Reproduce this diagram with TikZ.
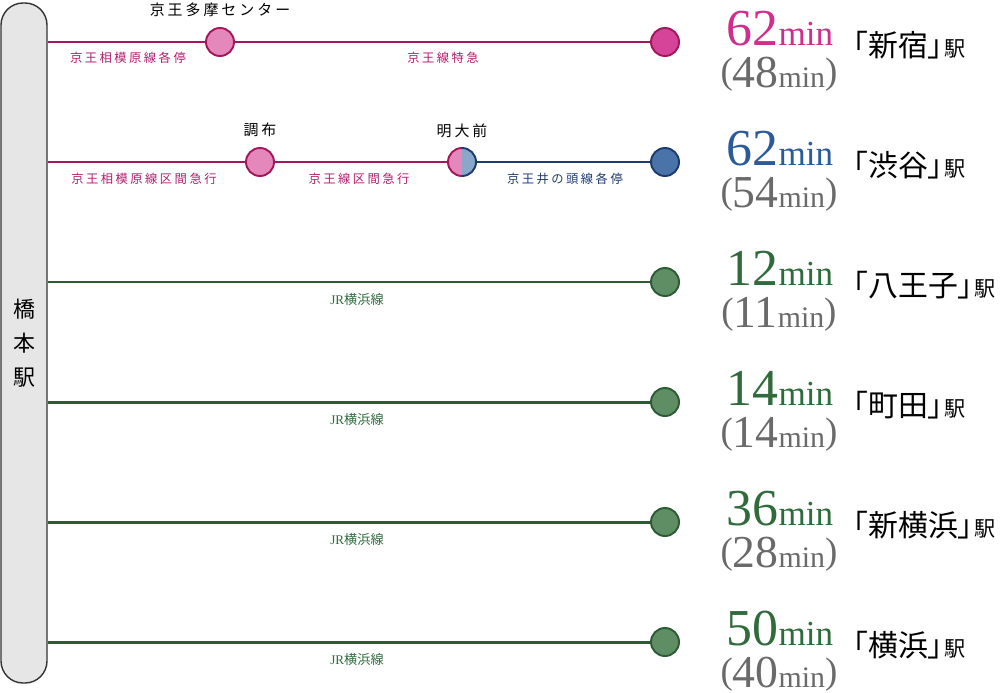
\documentclass[tikz,border=0pt]{standalone}
\usepackage{fontspec}
\setmainfont{Liberation Serif}
\newfontfamily\jpfont{Noto Sans CJK JP}
\newfontfamily\jpwide[LetterSpace=20]{Noto Sans CJK JP}
\newfontfamily\jpprop[RawFeature=+palt]{Noto Sans CJK JP}
\usetikzlibrary{positioning}
\definecolor{keio}{HTML}{A3175C}
\definecolor{keiofill}{HTML}{E487BA}
\definecolor{keioend}{HTML}{D6449A}
\definecolor{keiolabel}{HTML}{B01E6E}
\definecolor{keiotext}{HTML}{D02E8C}
\definecolor{inoka}{HTML}{1D3B6E}
\definecolor{inofill}{HTML}{4A74A9}
\definecolor{inohalf}{HTML}{89A7CA}
\definecolor{inotext}{HTML}{2B5B98}
\definecolor{jr}{HTML}{2D5B34}
\definecolor{jrfill}{HTML}{5F8E64}
\definecolor{jrtext}{HTML}{2F6B3B}
\definecolor{subgray}{HTML}{6A6A6A}
\definecolor{barfill}{HTML}{E6E6E6}
\definecolor{barline}{HTML}{333333}

\newcommand{\timemain}[1]{{\fontsize{29.5}{30}\selectfont #1}{\fontsize{20}{20}\selectfont min}}
\newcommand{\timesub}[1]{\raisebox{2pt}{\fontsize{21}{21}\selectfont (}{\fontsize{26}{26}\selectfont #1}{\fontsize{17}{17}\selectfont min}\raisebox{2pt}{\fontsize{21}{21}\selectfont )}}
\newcommand{\eki}[1]{{\fontsize{17}{17}\selectfont 「#1」}\hspace{1pt}{\fontsize{12}{12}\selectfont 駅}}

\begin{document}
\begin{tikzpicture}[x=0.2mm, y=-0.2mm,
  track/.style={line width=1.7pt, #1},
  stn/.style={circle, draw=#1, line width=1.1pt, minimum size=5.6mm, inner sep=0pt},
  stnname/.style={inner sep=0pt, font=\jpwide\fontsize{8.5}{10}\selectfont},
  linename/.style={inner sep=0pt, text=#1, font=\jpwide\fontsize{7}{8}\selectfont},
  jrname/.style={inner sep=0pt, text=jrtext, font=\fontsize{7.5}{8}\selectfont},
  maintime/.style={anchor=base, inner sep=0pt, text=#1},
  subtime/.style={anchor=base, inner sep=0pt, text=subgray},
  ekiname/.style={anchor=base west, inner sep=0pt, font=\jpprop}
]
  \useasboundingbox (0,0) rectangle (1000,692);

  \node[draw=barline, fill=barfill, line width=0.8pt, rounded corners=4.4mm,
        minimum width=9.2mm, minimum height=136mm, inner sep=0pt, align=center,
        font=\jpfont\fontsize{12.5}{19.3}\selectfont] (bar) at (24,343) {橋\\本\\駅};

  % Keio line to Shinjuku
  \node[stn=keio, fill=keiofill] (tama) at (220,42) {};
  \node[stn=keio, fill=keioend] (shinjuku) at (665,42) {};
  \draw[track=keio] (bar.east |- tama) -- (tama);
  \draw[track=keio] (tama) -- (shinjuku);
  \node[stnname, above=2mm of tama] (tamaname) {京王多摩センター};
  \node[linename=keiolabel] (sagami1) at (128,58) {京王相模原線各停};
  \node[linename=keiolabel] (keio1) at (443,58) {京王線特急};
  \node[maintime=keiotext] (shinjuku-t) at (780,45) {\timemain{62}};
  \node[subtime] (shinjuku-s) at (779,87) {\timesub{48}};
  \node[ekiname] (shinjuku-e) at (853,56) {\eki{新宿}};

  % Keio and Inokashira lines to Shibuya
  \node[stn=keio, fill=keiofill] (chofu) at (260,162) {};
  \node[circle, minimum size=5.6mm, inner sep=0pt, path picture={
      \fill[keiofill] (path picture bounding box.south west) rectangle (path picture bounding box.north);
      \fill[inohalf] (path picture bounding box.south) rectangle (path picture bounding box.north east);}]
      (meidai) at (462,162) {};
  \draw[keio, line width=1.1pt] (meidai.center) ++(90:2.8mm) arc[start angle=90, end angle=270, radius=2.8mm];
  \draw[inoka, line width=1.1pt] (meidai.center) ++(-90:2.8mm) arc[start angle=-90, end angle=90, radius=2.8mm];
  \node[stn=inoka, fill=inofill] (shibuya) at (665,162) {};
  \draw[track=keio] (bar.east |- chofu) -- (chofu);
  \draw[track=keio] (chofu) -- (meidai);
  \draw[track=inoka] (meidai) -- (shibuya);
  \node[stnname, above=2mm of chofu] (chofuname) {調布};
  \node[stnname, above=2mm of meidai] (meidainame) {明大前};
  \node[linename=keiolabel] (sagami2) at (144,179) {京王相模原線区間急行};
  \node[linename=keiolabel] (keio2) at (359,179) {京王線区間急行};
  \node[linename=inoka] (inokashira) at (565,179) {京王井の頭線各停};
  \node[maintime=inotext] (shibuya-t) at (780,165) {\timemain{62}};
  \node[subtime] (shibuya-s) at (779,207) {\timesub{54}};
  \node[ekiname] (shibuya-e) at (853,176) {\eki{渋谷}};

  % JR Yokohama line
  \foreach \y/\sta/\tm/\tmb/\nm in {282/hachioji/12/11/八王子, 402/machida/14/14/町田,
                                  522/shinyoko/36/28/新横浜, 642/yokohama/50/40/横浜}{
    \node[stn=jr, fill=jrfill] (\sta) at (665,\y) {};
    \draw[track=jr] (bar.east |- \sta) -- (\sta);
    \node[jrname] (\sta-line) at (357,\y+17) {JR{\jpfont 横浜線}};
    \node[maintime=jrtext] (\sta-t) at (780,\y+3) {\timemain{\tm}};
    \node[subtime] (\sta-s) at (779,\y+45) {\timesub{\tmb}};
    \node[ekiname] (\sta-e) at (853,\y+14) {\eki{\nm}};
  }
\end{tikzpicture}
\end{document}
